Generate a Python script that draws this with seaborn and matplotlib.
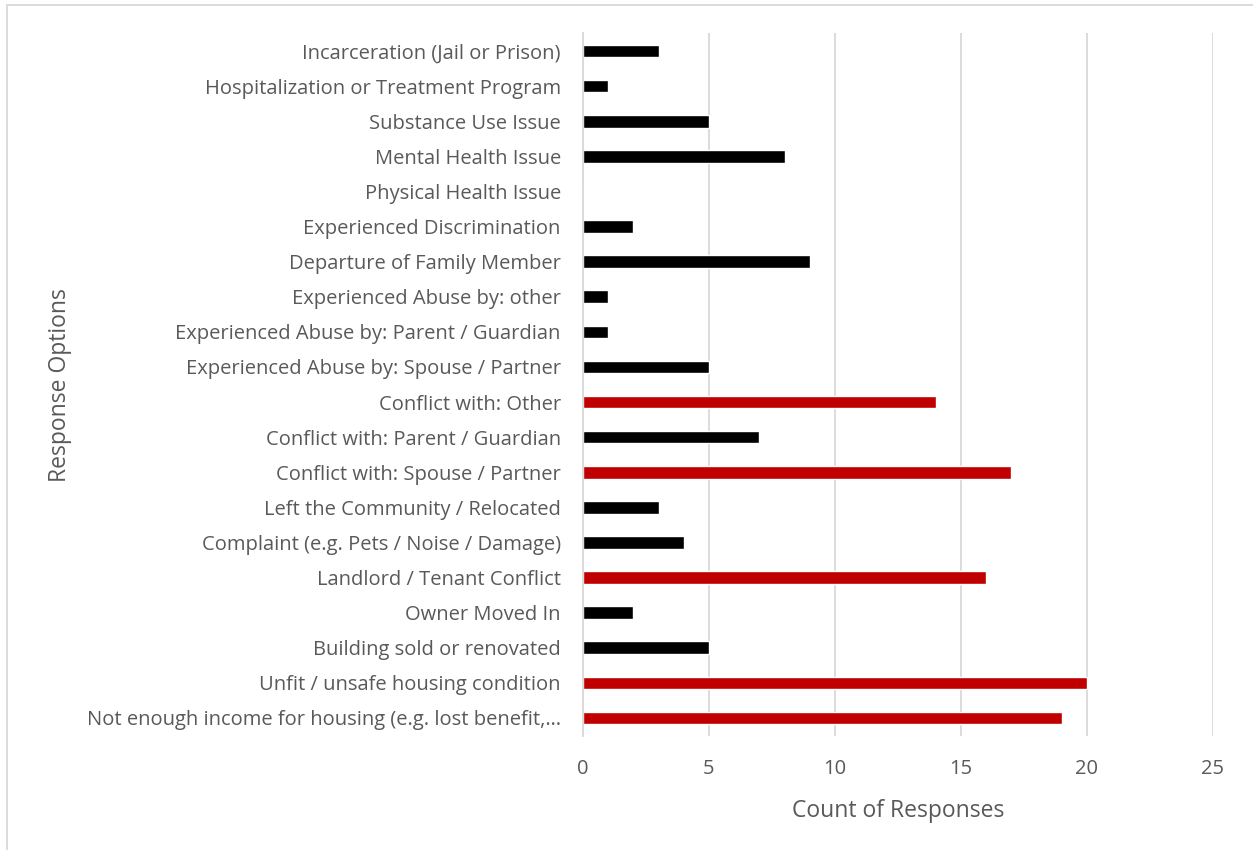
import pandas as pd
import matplotlib.pyplot as plt
import seaborn as sns
from matplotlib.patches import Rectangle

categories = [
    "Incarceration (Jail or Prison)",
    "Hospitalization or Treatment Program",
    "Substance Use Issue",
    "Mental Health Issue",
    "Physical Health Issue",
    "Experienced Discrimination",
    "Departure of Family Member",
    "Experienced Abuse by: other",
    "Experienced Abuse by: Parent / Guardian",
    "Experienced Abuse by: Spouse / Partner",
    "Conflict with: Other",
    "Conflict with: Parent / Guardian",
    "Conflict with: Spouse / Partner",
    "Left the Community / Relocated",
    "Complaint (e.g. Pets / Noise / Damage)",
    "Landlord / Tenant Conflict",
    "Owner Moved In",
    "Building sold or renovated",
    "Unfit / unsafe housing condition",
    "Not enough income for housing (e.g. lost benefit,\u2026",
]
counts = [3, 1, 5, 8, 0, 2, 9, 1, 1, 5, 14, 7, 17, 3, 4, 16, 2, 5, 20, 19]
highlight = [False, False, False, False, False, False, False, False, False, False,
             True, False, True, False, False, True, False, False, True, True]

df = pd.DataFrame({"option": categories, "count": counts,
                   "group": ["top" if h else "other" for h in highlight]})

sns.set_style("white")
plt.rcParams["font.family"] = ["Open Sans", "DejaVu Sans"]
text_color = "#595959"

fig = plt.figure(figsize=(12.53, 8.5), dpi=100)
ax = fig.add_axes([583 / 1253, 1 - 735.5 / 850, 630 / 1253, 702 / 850])

sns.barplot(data=df, x="count", y="option", hue="group", order=categories,
            palette={"top": "#c00000", "other": "#000000"}, width=0.36,
            saturation=1, dodge=False, legend=False, ax=ax)

ax.set_xlim(0, 25)
ax.set_xticks([0, 5, 10, 15, 20, 25])
ax.xaxis.grid(True, color="#d9d9d9", linewidth=1.3)
ax.set_axisbelow(True)
for side in ["top", "right", "bottom"]:
    ax.spines[side].set_visible(False)
ax.spines["left"].set_color("#d9d9d9")
ax.spines["left"].set_linewidth(1.3)
ax.tick_params(axis="both", length=0, labelsize=14.5, colors=text_color)
ax.tick_params(axis="x", pad=17)
ax.tick_params(axis="y", pad=16)

ax.set_xlabel("Count of Responses", fontsize=16.5, color=text_color, labelpad=14)
ax.set_ylabel("")
fig.text(60 / 1253, 1 - 385 / 850, "Response Options", rotation=90,
         fontsize=16.5, color=text_color, ha="center", va="center")

fig.patches.append(Rectangle((7 / 1253, -0.1), 1.2, 1 - 5 / 850 + 0.1,
                             transform=fig.transFigure, fill=False,
                             edgecolor="#d9d9d9", linewidth=1.3))

fig.savefig("out.png", dpi=100)
